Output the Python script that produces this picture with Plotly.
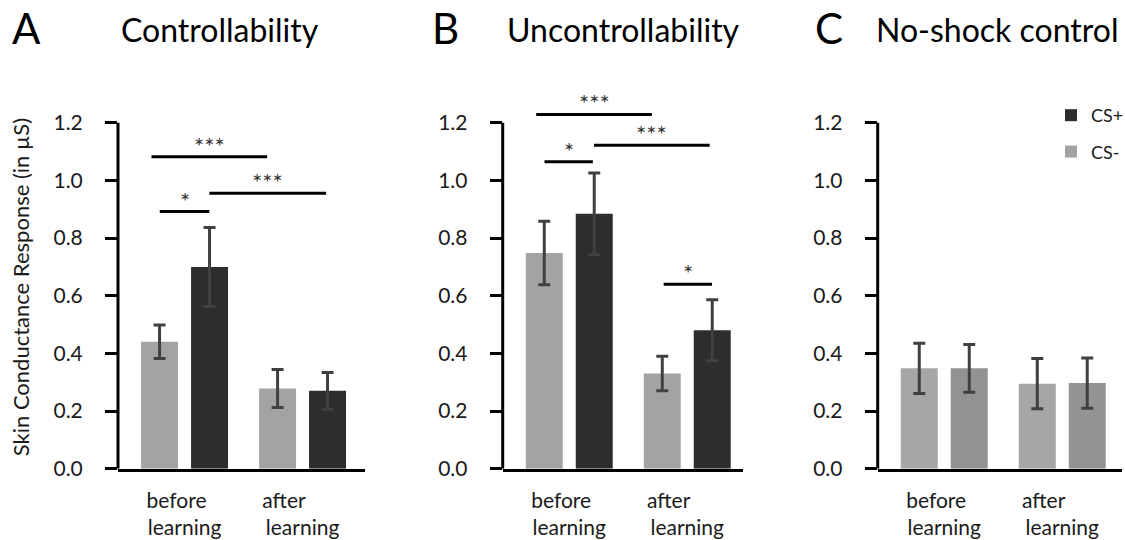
import plotly.graph_objects as go

# ---------------- data ----------------
conditions = ["before learning", "after learning"]
condition_labels = ["before\u00a0\u00a0\u00a0<br>learning", "after\u00a0\u00a0\u00a0\u00a0\u00a0\u00a0\u00a0<br>learning"]
y_ticks = [0.0, 0.2, 0.4, 0.6, 0.8, 1.0, 1.2]
y_tick_labels = ["0.0", "0.2", "0.4", "0.6", "0.8", "1.0", "1.2"]

panel_letters = ["A", "B", "C"]
panel_titles = ["Controllability", "Uncontrollability", "No-shock control"]

# mean SCR (µS) and SEM per panel
a_cs_minus = [0.44, 0.278]
a_cs_minus_err = [0.058, 0.066]
a_cs_plus = [0.70, 0.27]
a_cs_plus_err = [0.137, 0.064]

b_cs_minus = [0.748, 0.33]
b_cs_minus_err = [0.11, 0.06]
b_cs_plus = [0.884, 0.48]
b_cs_plus_err = [0.142, 0.106]

c_cs_minus = [0.348, 0.295]
c_cs_minus_err = [0.087, 0.087]
c_cs_plus = [0.348, 0.297]
c_cs_plus_err = [0.083, 0.087]

# significance brackets: (x start, x end, y level, label) in category units
a_sig = [(-0.28, 0.70, 1.082, "***"), (-0.21, 0.21, 0.892, "*"), (0.21, 1.20, 0.955, "***")]
b_sig = [(-0.28, 0.70, 1.229, "***"), (-0.21, 0.20, 1.065, "*"), (0.21, 1.19, 1.122, "***"),
         (0.80, 1.21, 0.64, "*")]
c_sig = []

# ---------------- styling ----------------
FONT = "Lato"
W, H = 1125, 540
PX_PER_UNIT = 118.0
X_LEFT = -0.564
axis_px = [(118, 365), (502.7, 743), (877.7, 1122)]
y_zero_px, y_scale = 468.7, 288.3
Y_MAX = 1.26

cs_minus_col = ["#a3a3a3", "#a3a3a3", "#a6a6a6"]
cs_plus_col = ["#2d2d2d", "#2d2d2d", "#939393"]
err_col = "#404040"
text_col = "#1a1a1a"

panels = [
    (a_cs_minus, a_cs_minus_err, a_cs_plus, a_cs_plus_err, a_sig),
    (b_cs_minus, b_cs_minus_err, b_cs_plus, b_cs_plus_err, b_sig),
    (c_cs_minus, c_cs_minus_err, c_cs_plus, c_cs_plus_err, c_sig),
]

fig = go.Figure()
shapes, annotations = [], []

y_dom = [(H - y_zero_px) / H, (H - (y_zero_px - Y_MAX * y_scale)) / H]

for i, (m_minus, e_minus, m_plus, e_plus, sigs) in enumerate(panels):
    sfx = "" if i == 0 else str(i + 1)
    xa, ya = "x" + sfx, "y" + sfx
    fig.add_trace(go.Bar(
        x=conditions, y=m_minus, name="CS-", xaxis=xa, yaxis=ya,
        marker=dict(color=cs_minus_col[i], line=dict(width=0)),
        error_y=dict(type="data", array=e_minus, color=err_col, thickness=3, width=6),
        showlegend=(i == 0), legendgroup="minus", legendrank=2,
    ))
    fig.add_trace(go.Bar(
        x=conditions, y=m_plus, name="CS+", xaxis=xa, yaxis=ya,
        marker=dict(color=cs_plus_col[i], line=dict(width=0)),
        error_y=dict(type="data", array=e_plus, color=err_col, thickness=3, width=6),
        showlegend=(i == 0), legendgroup="plus", legendrank=1,
    ))
    x0p, x1p = axis_px[i]
    x_range = [X_LEFT, X_LEFT + (x1p - x0p) / PX_PER_UNIT]
    fig.update_layout(**{
        "xaxis" + sfx: dict(domain=[x0p / W, x1p / W], range=x_range, anchor=ya,
                            showline=True, linewidth=3, linecolor="black", ticks="",
                            tickvals=conditions, ticktext=condition_labels,
                            showgrid=False, zeroline=False, fixedrange=True, automargin=False,
                            tickfont=dict(family=FONT, size=21, color=text_col),
                            ticklabelstandoff=11),
        "yaxis" + sfx: dict(domain=y_dom, range=[0, Y_MAX], anchor=xa, automargin=False,
                            showline=False, ticks="outside", ticklen=12, tickwidth=3,
                            tickcolor="black", tickvals=y_ticks, ticktext=y_tick_labels,
                            showgrid=False, zeroline=False, fixedrange=True,
                            tickfont=dict(family=FONT, size=21, color=text_col),
                            ticklabelstandoff=18),
    })
    # vertical axis line (0 to 1.2)
    shapes.append(dict(type="line", xref=xa + " domain", yref=ya, x0=0, x1=0, y0=0, y1=1.2,
                       line=dict(color="black", width=3)))
    # significance brackets
    for (sx0, sx1, sy, lab) in sigs:
        shapes.append(dict(type="line", xref=xa, yref=ya, x0=sx0, x1=sx1, y0=sy, y1=sy,
                           line=dict(color="black", width=3)))
        annotations.append(dict(xref=xa, yref=ya, x=(sx0 + sx1) / 2, y=sy, text=lab,
                                showarrow=False, yanchor="bottom", yshift=-5,
                                font=dict(family=FONT, size=24, color="#333333")))

# panel letters and titles (pixels); last title right-aligned to the figure edge
letter_x = [10, 430, 813]
title_pos = [(119, "left"), (505, "left"), (1120, "right")]
for i in range(3):
    annotations.append(dict(xref="paper", yref="paper", x=letter_x[i] / W, y=1 - 27.5 / H,
                            xanchor="left", yanchor="middle", text=panel_letters[i],
                            showarrow=False, font=dict(family=FONT, size=42, color="black")))
    tx, anc = title_pos[i]
    annotations.append(dict(xref="paper", yref="paper", x=tx / W, y=1 - 29.5 / H,
                            xanchor=anc, yanchor="middle", text=panel_titles[i],
                            showarrow=False, font=dict(family=FONT, size=32, color="black")))

fig.update_layout(
    width=W, height=H,
    margin=dict(l=0, r=0, t=0, b=0, autoexpand=False),
    paper_bgcolor="white", plot_bgcolor="white",
    barmode="group", bargap=0.153, bargroupgap=0.26,
    showlegend=True,
    legend=dict(x=1051 / W, y=1 - 97 / H, xanchor="left", yanchor="top",
                traceorder="grouped", tracegroupgap=10,
                font=dict(family=FONT, size=18, color=text_col),
                bgcolor="rgba(0,0,0,0)", itemwidth=30),
    yaxis=dict(title=dict(text="Skin Conductance Response (in µS)", standoff=17,
                          font=dict(family=FONT, size=22, color=text_col))),
    shapes=shapes, annotations=annotations,
)

# page body without default margin so the 1125x540 figure fills the window exactly
fig.write_html("out.html", config={"displayModeBar": False},
               post_script="document.body.style.margin='0';document.body.style.overflow='hidden';")
